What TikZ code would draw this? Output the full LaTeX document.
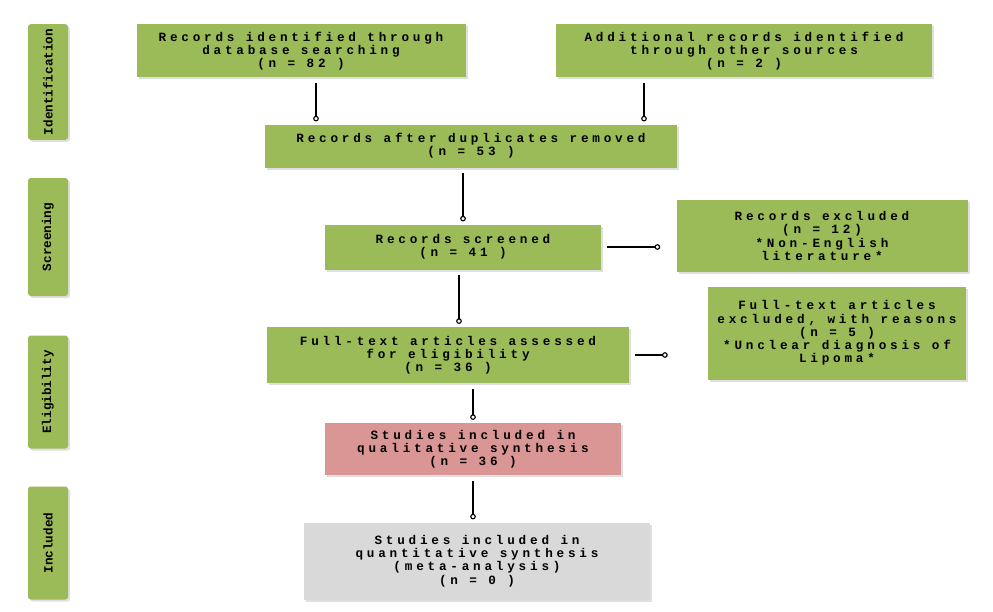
\documentclass[tikz,border=0pt]{standalone}
\usepackage{fontspec}
\newfontfamily\boxfont{Liberation Mono}[LetterSpace=30]
\newfontfamily\sidefont{Liberation Mono}
\usetikzlibrary{positioning, shadows, arrows.meta}
\definecolor{prgreen}{HTML}{9BBB59}
\definecolor{prpink}{HTML}{D99694}
\definecolor{prgray}{HTML}{D9D9D9}

\begin{document}
\begin{tikzpicture}[
    box/.style = {fill=prgreen, align=center, inner sep=2pt,
      font=\boxfont\bfseries\fontsize{9}{9.4}\selectfont,
      drop shadow={opacity=0.25, shadow xshift=0.5mm, shadow yshift=-0.5mm}},
    side/.style = {fill=prgreen, rounded corners=2pt, minimum width=1cm,
      font=\sidefont\bfseries\fontsize{9}{10}\selectfont,
      drop shadow={opacity=0.25, shadow xshift=0.5mm, shadow yshift=-0.5mm}},
    link/.style = {thick, -{Circle[open, length=4pt]}, shorten <=4pt, shorten >=2pt}]
  \useasboundingbox (0,0) rectangle (24.825,-15.3);
  % phases
  \node[side, minimum height=2.875cm] (id) at (1.2,-2.05) {\rotatebox{90}{Identification}};
  \node[side, minimum height=2.95cm] (sc) at (1.2,-5.925) {\rotatebox{90}{Screening}};
  \node[side, minimum height=2.825cm] (el) at (1.2,-9.8) {\rotatebox{90}{Eligibility}};
  \node[side, minimum height=2.825cm] (in) at (1.2,-13.575) {\rotatebox{90}{Included}};
  % boxes
  \node[box, minimum width=8.225cm, minimum height=1.325cm] (db) at (7.525,-1.275)
    {Records identified through\\database searching\\(n = 82  )};
  \node[box, minimum width=9.4cm, minimum height=1.325cm] (other) at (18.6,-1.275)
    {Additional records identified\\through other sources\\(n = 2 )};
  \node[box, minimum width=10.3cm, minimum height=1.075cm] (dup) at (11.775,-3.65)
    {Records after duplicates removed\\(n = 53   )};
  \node[box, minimum width=6.9cm, minimum height=1.125cm] (screen) at (11.575,-6.175)
    {Records screened\\(n = 41  )};
  \node[box, minimum width=7.275cm, minimum height=1.8cm] (excl) at (20.55,-5.9)
    {Records excluded\\(n = 12)\\*Non-English\\literature*};
  \node[box, minimum width=9.05cm, minimum height=1.4cm] (full) at (11.2,-8.875)
    {Full-text articles assessed\\for eligibility\\(n = 36 )};
  \node[box, minimum width=6.45cm, minimum height=2.325cm] (fexcl) at (20.925,-8.325)
    {Full-text articles\\excluded, with reasons\\(n = 5 )\\*Unclear diagnosis of\\Lipoma*};
  \node[box, fill=prpink, minimum width=7.4cm, minimum height=1.3cm] (qual) at (11.825,-11.225)
    {Studies included in\\qualitative synthesis\\(n = 36 )};
  \node[box, fill=prgray, minimum width=8.65cm, minimum height=1.925cm] (quant) at (11.925,-14.025)
    {Studies included in\\quantitative synthesis\\(meta-analysis)\\(n =  0 )};
  % connectors
  \draw[link] ([xshift=0.375cm]db.south) -- ([xshift=0.375cm]db.south |- dup.north);
  \draw[link] ([xshift=-2.5cm]other.south) -- ([xshift=-2.5cm]other.south |- dup.north);
  \draw[link] ([xshift=-0.2cm]dup.south) -- ([xshift=-0.2cm]dup.south |- screen.north);
  \draw[link, shorten >=0.4cm] (screen.east) -- (screen.east -| excl.west);
  \draw[link] ([xshift=-0.1cm]screen.south) -- ([xshift=-0.1cm]screen.south |- full.north);
  \draw[link, shorten >=1cm] (full.east) -- (full.east -| fexcl.west);
  \draw[link] ([xshift=0.625cm]full.south) -- ([xshift=0.625cm]full.south |- qual.north);
  \draw[link] (qual.south) -- (qual.south |- quant.north);
\end{tikzpicture}
\end{document}
